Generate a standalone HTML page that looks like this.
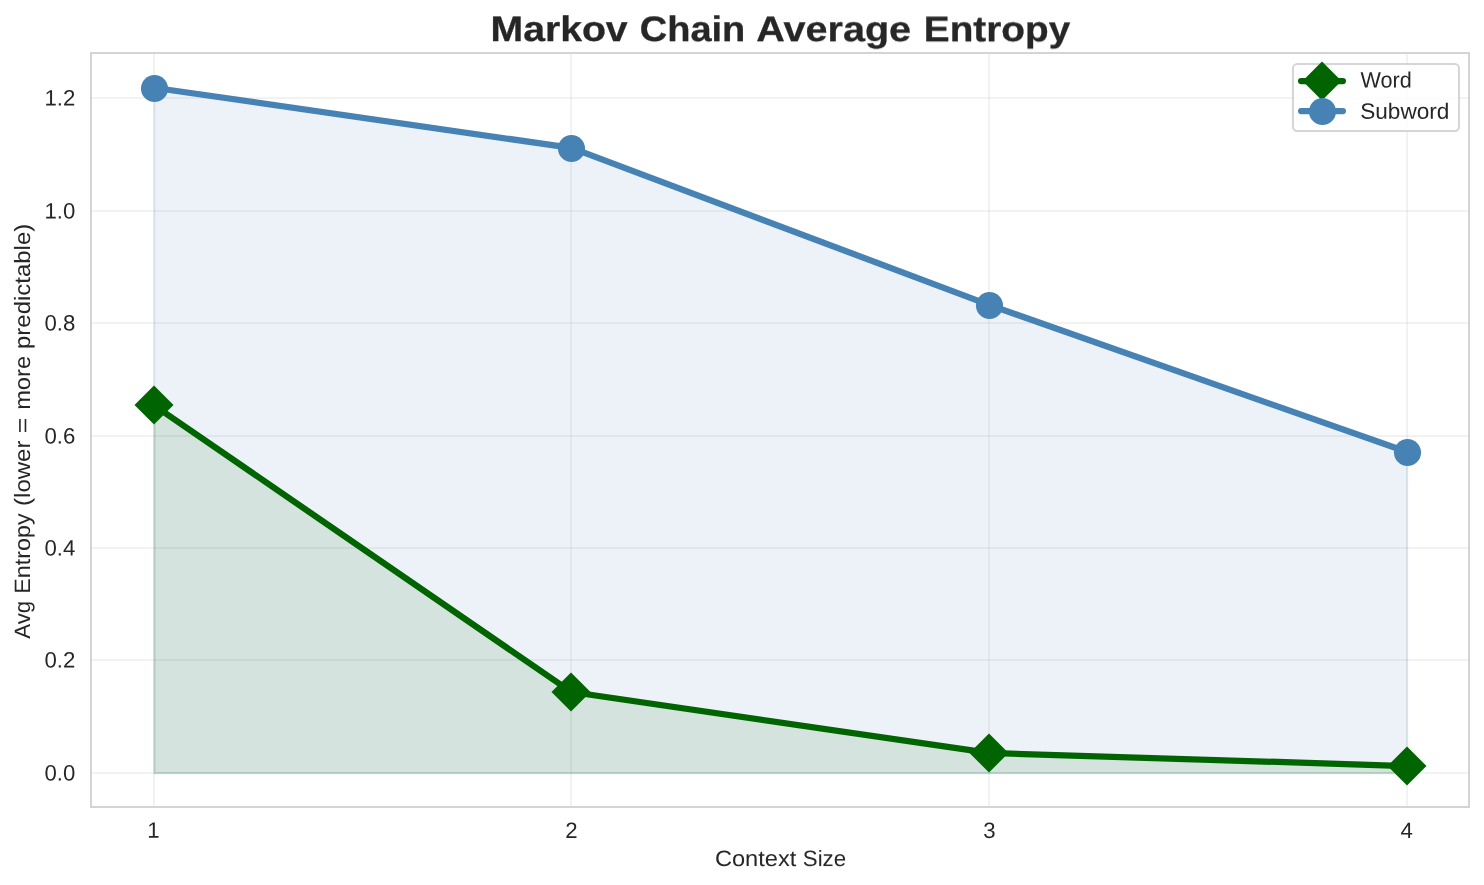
<!DOCTYPE html>
<html>
<head>
<meta charset="utf-8">
<title>Markov Chain Average Entropy</title>
<style>
  html, body { margin: 0; padding: 0; background: #ffffff; }
  body { width: 1484px; height: 885px; overflow: hidden; }
  svg { display: block; font-family: "Liberation Sans", sans-serif; }
  text { fill: #262626; text-rendering: geometricPrecision; }
</style>
</head>
<body>
<svg width="1484" height="885" viewBox="0 0 1484 885">
  <rect x="0" y="0" width="1484" height="885" fill="#ffffff"/>
  <!-- grid lines (drawn below everything, pixel snapped, 2px) -->
  <g stroke="#cccccc" stroke-opacity="0.255" stroke-width="2" fill="none" shape-rendering="crispEdges">
    <line x1="154" y1="54" x2="154" y2="806"/>
    <line x1="571" y1="54" x2="571" y2="806"/>
    <line x1="989" y1="54" x2="989" y2="806"/>
    <line x1="1407" y1="54" x2="1407" y2="806"/>
    <line x1="92" y1="773" x2="1468" y2="773"/>
    <line x1="92" y1="660" x2="1468" y2="660"/>
    <line x1="92" y1="548" x2="1468" y2="548"/>
    <line x1="92" y1="436" x2="1468" y2="436"/>
    <line x1="92" y1="323" x2="1468" y2="323"/>
    <line x1="92" y1="211" x2="1468" y2="211"/>
    <line x1="92" y1="98" x2="1468" y2="98"/>
  </g>

  <!-- area fills -->
  <polygon points="154.41,773.33 154.41,88.25 572.01,148.39 989.61,305.41 1407.21,452.32 1407.21,773.33" fill="#4682b4" fill-opacity="0.1" stroke="#4682b4" stroke-opacity="0.1" stroke-width="2.08" stroke-linejoin="miter"/>
  <polygon points="154.41,773.33 154.41,405.73 572.01,692.51 989.61,753.43 1407.21,766.53 1407.21,773.33" fill="#006400" fill-opacity="0.1" stroke="#006400" stroke-opacity="0.1" stroke-width="2.08" stroke-linejoin="miter"/>

  <!-- Word series -->
  <polyline points="153.81,405.23 571.41,692.01 989.01,752.93 1406.61,766.03" fill="none" stroke="#006400" stroke-width="6.25" stroke-linejoin="round" stroke-linecap="round"/>
  <g fill="#006400">
    <path d="M154,385.5 L173.5,405 L154,424.5 L134.5,405 Z"/>
    <path d="M571,672.5 L590.5,692 L571,711.5 L551.5,692 Z"/>
    <path d="M989,733.5 L1008.5,753 L989,772.5 L969.5,753 Z"/>
    <path d="M1407,746.5 L1426.5,766 L1407,785.5 L1387.5,766 Z"/>
  </g>

  <!-- Subword series -->
  <polyline points="153.81,87.75 571.41,147.89 989.01,304.91 1406.61,451.82" fill="none" stroke="#4682b4" stroke-width="6.25" stroke-linejoin="round" stroke-linecap="round"/>
  <g fill="#4682b4">
    <circle cx="154.5" cy="88.5" r="13.54"/>
    <circle cx="571.5" cy="148.5" r="13.54"/>
    <circle cx="989.5" cy="305.5" r="13.54"/>
    <circle cx="1407.5" cy="452.5" r="13.54"/>
  </g>

  <!-- axes spines -->
  <rect x="91" y="53" width="1378" height="754" fill="none" stroke="#d4d4d4" stroke-width="2" shape-rendering="crispEdges"/>

  <!-- legend -->
  <rect x="1293" y="64" width="166" height="67" rx="4.17" ry="4.17" fill="#ffffff" fill-opacity="0.8" stroke="#cccccc" stroke-opacity="0.8" stroke-width="2.08"/>
  <line x1="1301.1" y1="81" x2="1342.9" y2="81" stroke="#006400" stroke-width="6.25" stroke-linecap="round"/>
  <path d="M1322,61.5 L1341.5,81 L1322,100.5 L1302.5,81 Z" fill="#006400"/>
  <line x1="1301.1" y1="111" x2="1342.9" y2="111" stroke="#4682b4" stroke-width="6.25" stroke-linecap="round"/>
  <circle cx="1322.5" cy="111.5" r="13.54" fill="#4682b4"/>

  <!-- all text (own layer => grayscale antialiasing like the source raster) -->
  <g style="will-change: transform">
  <text x="1360.57" y="87.58" transform="rotate(0.03 1360.57 87.58)" font-size="22.2" textLength="51.2" lengthAdjust="spacingAndGlyphs">Word</text>
  <text x="1360.2" y="118.67" transform="rotate(0.03 1360.2 118.67)" font-size="22.2" textLength="89.2" lengthAdjust="spacingAndGlyphs">Subword</text>

  <!-- title -->
  <text y="41" transform="rotate(0.03 490.4 41)" font-size="35.5" font-weight="bold" stroke="#262626" stroke-width="0.3" stroke-linejoin="round"><tspan x="490.52" textLength="137.13" lengthAdjust="spacingAndGlyphs">Markov</tspan> <tspan x="639.74" textLength="105.57" lengthAdjust="spacingAndGlyphs">Chain</tspan> <tspan x="756.38" textLength="154.7" lengthAdjust="spacingAndGlyphs">Average</tspan> <tspan x="923.79" textLength="146.44" lengthAdjust="spacingAndGlyphs">Entropy</tspan></text>

  <!-- x tick labels -->
  <g font-size="22.2">
    <text x="153.3" y="837.65" transform="rotate(0.03 153.3 837.65)" text-anchor="middle">1</text>
    <text x="571.3" y="837.65" transform="rotate(0.03 571.3 837.65)" text-anchor="middle">2</text>
    <text x="989.5" y="837.65" transform="rotate(0.03 989.5 837.65)" text-anchor="middle">3</text>
    <text x="1406.7" y="837.65" transform="rotate(0.03 1406.7 837.65)" text-anchor="middle">4</text>
  </g>

  <!-- y tick labels -->
  <g font-size="22.2">
    <text x="44.5" y="780.6" transform="rotate(0.03 44.5 780.6)" textLength="30.9" lengthAdjust="spacing">0.0</text>
    <text x="44.5" y="667.6" transform="rotate(0.03 44.5 667.6)" textLength="30.9" lengthAdjust="spacing">0.2</text>
    <text x="44.5" y="555.6" transform="rotate(0.03 44.5 555.6)" textLength="30.9" lengthAdjust="spacing">0.4</text>
    <text x="44.5" y="443.6" transform="rotate(0.03 44.5 443.6)" textLength="30.9" lengthAdjust="spacing">0.6</text>
    <text x="44.5" y="330.6" transform="rotate(0.03 44.5 330.6)" textLength="30.9" lengthAdjust="spacing">0.8</text>
    <text x="44.5" y="218.6" transform="rotate(0.03 44.5 218.6)" textLength="30.9" lengthAdjust="spacing">1.0</text>
    <text x="44.5" y="105.6" transform="rotate(0.03 44.5 105.6)" textLength="30.9" lengthAdjust="spacing">1.2</text>
  </g>

  <!-- axis labels -->
  <text y="865.75" transform="rotate(0.03 715.3 865.75)" font-size="22.2"><tspan x="714.9" textLength="81.37" lengthAdjust="spacingAndGlyphs">Context</tspan> <tspan x="802.8" textLength="43.31" lengthAdjust="spacingAndGlyphs">Size</tspan></text>
  <text transform="translate(29.9,0) rotate(-90)" font-size="22.2"><tspan x="-638.77" textLength="37.87" lengthAdjust="spacingAndGlyphs">Avg</tspan> <tspan x="-593.78" textLength="80.37" lengthAdjust="spacingAndGlyphs">Entropy</tspan> <tspan x="-505.98" textLength="65.48" lengthAdjust="spacingAndGlyphs">(lower</tspan> <tspan x="-433.31" textLength="15.71" lengthAdjust="spacingAndGlyphs">=</tspan> <tspan x="-409.85" textLength="53.92" lengthAdjust="spacingAndGlyphs">more</tspan> <tspan x="-348.98" textLength="125.15" lengthAdjust="spacingAndGlyphs">predictable)</tspan></text>
  </g>
</svg>
</body>
</html>
